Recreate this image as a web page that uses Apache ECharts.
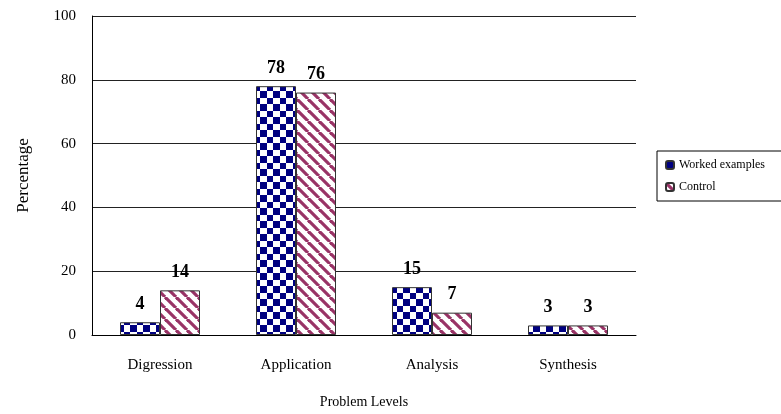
<!DOCTYPE html>
<html>
<head>
<meta charset="utf-8">
<script src="https://cdn.jsdelivr.net/npm/echarts@6/dist/echarts.min.js"></script>
<style>html,body{margin:0;padding:0;background:#fff}#c{width:781px;height:414px}</style>
</head>
<body>
<div id="c"></div>
<script>
const categories = ['Digression', 'Application', 'Analysis', 'Synthesis'];
const workedExamples = [4, 78, 15, 3];
const control = [14, 76, 7, 3];
const yTicks = [0, 20, 40, 60, 80, 100];

function checker() {
  const c = document.createElement('canvas');
  c.width = 13; c.height = 13;
  const g = c.getContext('2d');
  g.fillStyle = '#fff'; g.fillRect(0, 0, 13, 13);
  g.fillStyle = '#000080';
  g.fillRect(0, 0, 7, 7); g.fillRect(7, 7, 6, 6);
  return c;
}
function stripes() {
  const s = 11;
  const c = document.createElement('canvas');
  c.width = s; c.height = s;
  const g = c.getContext('2d');
  g.fillStyle = '#fff'; g.fillRect(0, 0, s, s);
  g.strokeStyle = '#993366'; g.lineWidth = 3.2;
  for (let k = -1; k <= 1; k++) {
    g.beginPath();
    g.moveTo(k * s, 0); g.lineTo(k * s + s, s);
    g.stroke();
  }
  return c;
}

const font = 'Liberation Serif';
const chart = echarts.init(document.getElementById('c'));
chart.setOption({
  animation: false,
  textStyle: { fontFamily: font },
  grid: { left: 92, right: 145, top: 16, bottom: 75 },
  legend: {
    orient: 'vertical', left: 657, top: 151,
    borderColor: '#000', borderWidth: 1,
    padding: [8, 30, 8, 8],
    itemGap: 10, itemWidth: 8, itemHeight: 8,
    textStyle: { fontFamily: font, fontSize: 12, color: '#000' },
    data: ['Worked examples', 'Control']
  },
  xAxis: {
    type: 'category', data: categories,
    name: 'Problem Levels', nameLocation: 'middle', nameGap: 60,
    nameTextStyle: { fontFamily: font, fontSize: 14, color: '#000' },
    axisLine: { lineStyle: { color: '#000', width: 1 } },
    axisTick: { inside: true, length: 5, lineStyle: { color: '#000' } },
    axisLabel: { fontFamily: font, fontSize: 15, color: '#000', margin: 23 }
  },
  yAxis: {
    type: 'value', min: 0, max: 100, interval: 20,
    name: 'Percentage', nameLocation: 'middle', nameGap: 60,
    nameTextStyle: { fontFamily: font, fontSize: 17, color: '#000' },
    axisLine: { show: true, lineStyle: { color: '#000', width: 1 } },
    axisTick: { show: false },
    axisLabel: { fontFamily: font, fontSize: 15, color: '#000', margin: 16,
      formatter: v => yTicks.includes(v) ? String(v) : '' },
    splitLine: { lineStyle: { color: '#222', width: 1 } }
  },
  series: [
    {
      name: 'Worked examples', type: 'bar', data: workedExamples,
      barWidth: 40, barGap: '0%',
      itemStyle: { color: { image: checker(), repeat: 'repeat' }, borderColor: '#333', borderWidth: 1 },
      label: { show: true, position: 'top', distance: 9, fontFamily: font, fontSize: 18, fontWeight: 'bold', color: '#000' }
    },
    {
      name: 'Control', type: 'bar', data: control,
      barWidth: 40, barGap: '0%',
      itemStyle: { color: { image: stripes(), repeat: 'repeat' }, borderColor: '#333', borderWidth: 1 },
      label: { show: true, position: 'top', distance: 9, fontFamily: font, fontSize: 18, fontWeight: 'bold', color: '#000' }
    }
  ]
});
</script>
</body>
</html>
